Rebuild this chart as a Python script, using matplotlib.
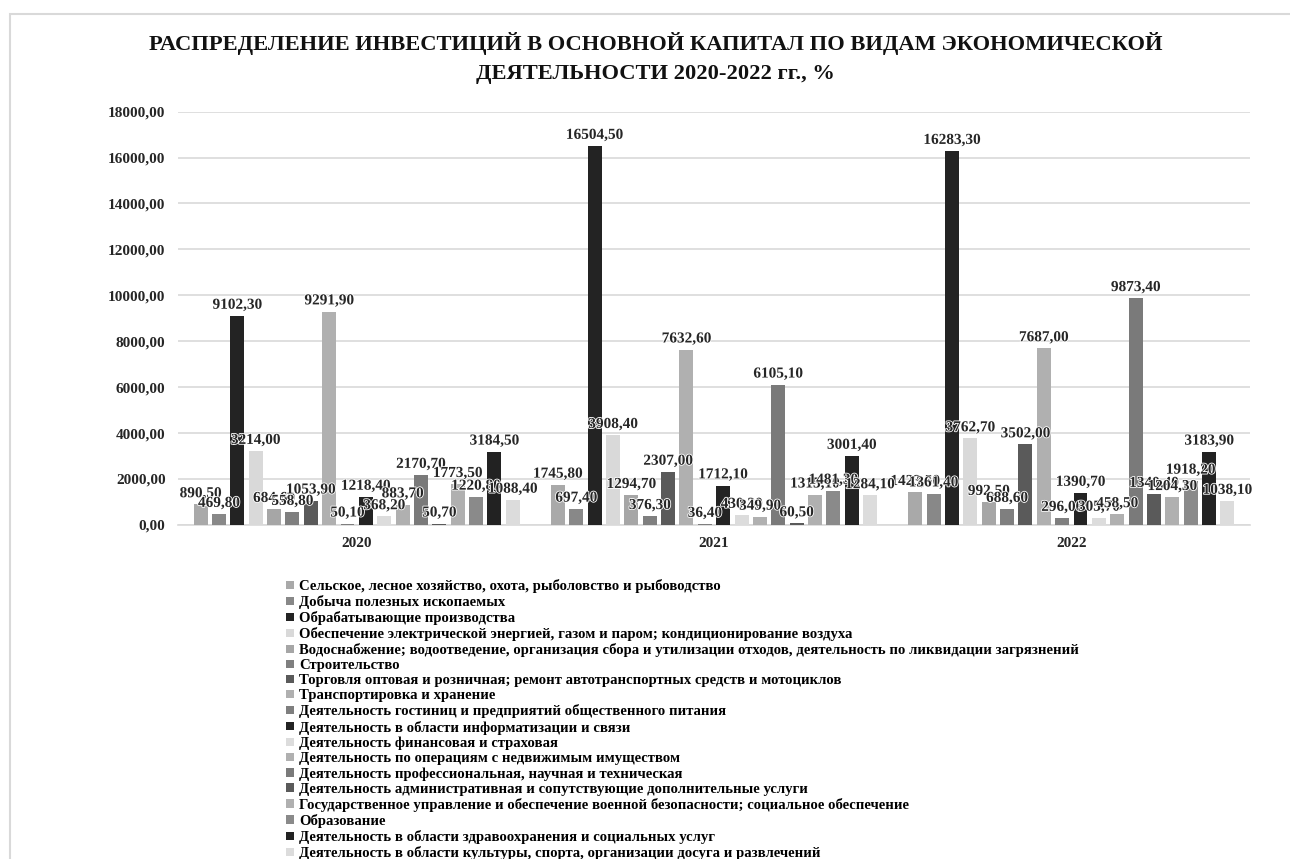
import numpy as np
import matplotlib
matplotlib.use("Agg")
import matplotlib.pyplot as plt
import matplotlib.patheffects as pe
from matplotlib.patches import Rectangle, Patch

plt.rcParams['font.family'] = ['Liberation Serif', 'DejaVu Serif']
plt.rcParams['font.weight'] = 'bold'

years = ['2020', '2021', '2022']
categories = [
    'Сельское, лесное хозяйство, охота, рыболовство и рыбоводство',
    'Добыча полезных ископаемых',
    'Обрабатывающие производства',
    'Обеспечение электрической энергией, газом и паром; кондиционирование воздуха',
    'Водоснабжение; водоотведение, организация сбора и утилизации отходов, деятельность по ликвидации загрязнений',
    'Строительство',
    'Торговля оптовая и розничная; ремонт автотранспортных средств и мотоциклов',
    'Транспортировка и хранение',
    'Деятельность гостиниц и предприятий общественного питания',
    'Деятельность в области информатизации и связи',
    'Деятельность финансовая и страховая',
    'Деятельность по операциям с недвижимым имуществом',
    'Деятельность профессиональная, научная и техническая',
    'Деятельность административная и сопутствующие дополнительные услуги',
    'Государственное управление и обеспечение военной безопасности; социальное обеспечение',
    'Образование',
    'Деятельность в области здравоохранения и социальных услуг',
    'Деятельность в области культуры, спорта, организации досуга и развлечений',
]
v2020 = [890.50, 469.80, 9102.30, 3214.00, 684.60, 558.80, 1053.90, 9291.90, 50.10,
         1218.40, 368.20, 883.70, 2170.70, 50.70, 1773.50, 1220.80, 3184.50, 1088.40]
v2021 = [1745.80, 697.40, 16504.50, 3908.40, 1294.70, 376.30, 2307.00, 7632.60, 36.40,
         1712.10, 430.30, 349.90, 6105.10, 60.50, 1315.10, 1481.30, 3001.40, 1284.10]
v2022 = [1423.50, 1361.40, 16283.30, 3762.70, 992.50, 688.60, 3502.00, 7687.00, 296.00,
         1390.70, 305.70, 458.50, 9873.40, 1340.40, 1204.30, 1918.20, 3183.90, 1038.10]

colors = ['#a9a9a9', '#888888', '#232323', '#d9d9d9', '#a6a6a6', '#7f7f7f', '#5a5a5a',
          '#b0b0b0', '#7f7f7f', '#232323', '#dcdcdc', '#b0b0b0', '#7a7a7a', '#5a5a5a',
          '#b0b0b0', '#8a8a8a', '#222222', '#dcdcdc']

data = np.array([v2020, v2021, v2022])

fig = plt.figure(figsize=(12.9, 8.59), dpi=100)
ax = fig.add_axes([0.138, 0.389, 0.831, 0.481])

n = len(categories)
slot = 0.0514
width = 0.039
x = np.arange(len(years))
for i in range(n):
    pos = x + (i - (n - 1) / 2) * slot
    bars = ax.bar(pos, data[:, i], width=width, color=colors[i], zorder=3)
    for b, v in zip(bars, data[:, i]):
        ax.annotate(f'{v:.2f}'.replace('.', ','), (b.get_x() + b.get_width() / 2, v),
                    xytext=(0, 3), textcoords='offset points', ha='center', va='bottom',
                    fontsize=11, fontweight='bold', color='#262626', zorder=4,
                    path_effects=[pe.withStroke(linewidth=1.2, foreground='white')])

ax.set_xlim(-0.5, 2.5)
ax.set_ylim(0, 18000)
ax.set_yticks(np.arange(0, 18001, 2000))
ax.set_yticklabels([f'{t:.2f}'.replace('.', ',') for t in np.arange(0, 18001, 2000)])
ax.set_xticks(x)
ax.set_xticklabels(years)
ax.tick_params(length=0, labelsize=11, colors='#262626', pad=9)
ax.grid(axis='y', color='#d9d9d9', lw=1.2, zorder=0)
for s in ['top', 'right', 'left']:
    ax.spines[s].set_visible(False)
ax.spines['bottom'].set_color('#d9d9d9')
ax.spines['bottom'].set_linewidth(1.2)

fig.text(0.508, 0.932, 'РАСПРЕДЕЛЕНИЕ ИНВЕСТИЦИЙ В ОСНОВНОЙ КАПИТАЛ ПО ВИДАМ ЭКОНОМИЧЕСКОЙ\n'
         'ДЕЯТЕЛЬНОСТИ 2020-2022 гг., %', ha='center', va='center', fontsize=16.2,
         fontweight='bold', color='#111111', linespacing=1.6)

handles = [Patch(facecolor=colors[i], label=categories[i]) for i in range(n)]
fig.legend(handles=handles, loc='upper left', bbox_to_anchor=(0.222, 0.326), frameon=False,
           fontsize=10.6, handlelength=0.5, handleheight=0.5, handletextpad=0.35,
           labelspacing=0.14, borderpad=0, borderaxespad=0)

fig.add_artist(Rectangle((10 / 1290, -0.2), 1.3, 1.2 - 14 / 859, transform=fig.transFigure,
                         fill=False, edgecolor='#d9d9d9', lw=1.5))

fig.savefig('out.png', dpi=100)
